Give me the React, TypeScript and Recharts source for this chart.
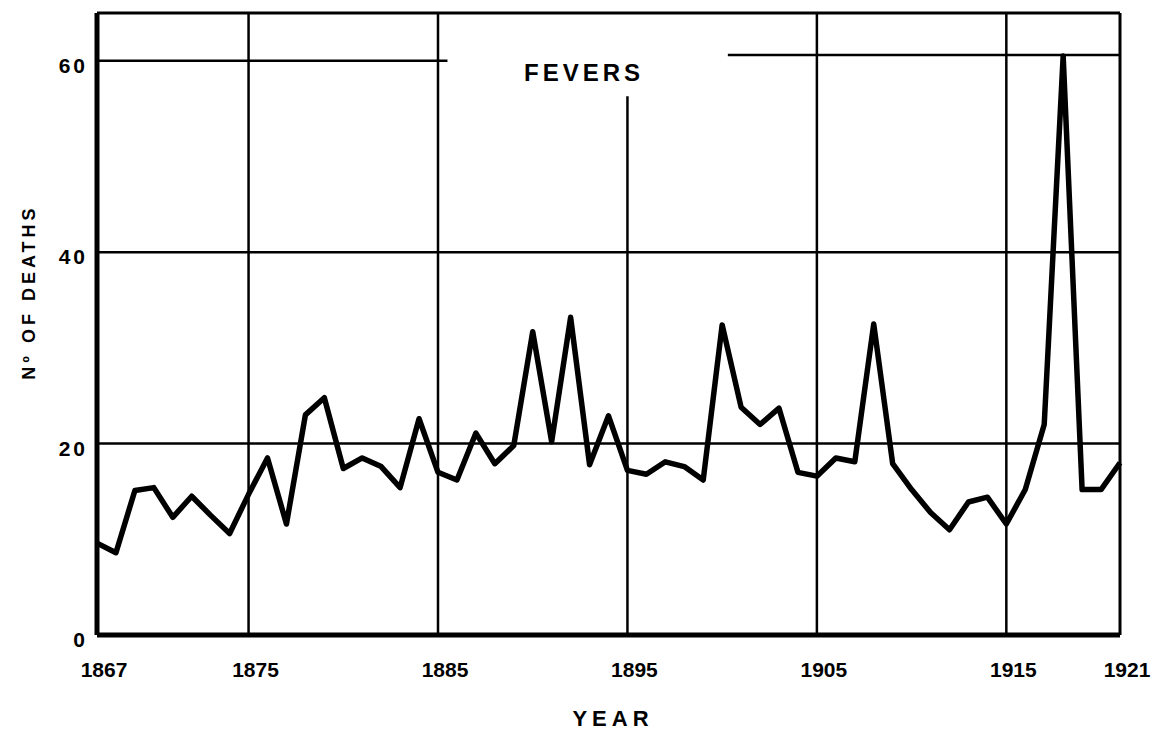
import React from "react";
import { LineChart, Line, XAxis, YAxis, ReferenceLine } from "recharts";

const years: number[] = [
  1867, 1868, 1869, 1870, 1871, 1872, 1873, 1874, 1875, 1876,
  1877, 1878, 1879, 1880, 1881, 1882, 1883, 1884, 1885, 1886,
  1887, 1888, 1889, 1890, 1891, 1892, 1893, 1894, 1895, 1896,
  1897, 1898, 1899, 1900, 1901, 1902, 1903, 1904, 1905, 1906,
  1907, 1908, 1909, 1910, 1911, 1912, 1913, 1914, 1915, 1916,
  1917, 1918, 1919, 1920, 1921,
];

const deaths: number[] = [
  9.6, 8.6, 15.1, 15.4, 12.3, 14.5, 12.5, 10.6, 14.7, 18.5,
  11.6, 23.0, 24.8, 17.4, 18.5, 17.6, 15.4, 22.6, 17.0, 16.2,
  21.1, 17.9, 19.8, 31.7, 20.2, 33.2, 17.8, 22.9, 17.2, 16.8,
  18.1, 17.6, 16.2, 32.4, 23.8, 22.0, 23.7, 17.0, 16.6, 18.5,
  18.1, 32.5, 17.9, 15.2, 12.8, 11.0, 13.9, 14.4, 11.6, 15.2,
  22.0, 60.5, 15.2, 15.2, 18.0,
];

const xTicks: number[] = [1867, 1875, 1885, 1895, 1905, 1915, 1921];
const yTicks: number[] = [0, 20, 40, 60];
const fullVerticalGrid: number[] = [1875, 1885, 1905, 1915];
const horizontalGrid: number[] = [20, 40];

const title = "FEVERS";
const xLabel = "YEAR";
const yLabel = "Nº OF DEATHS";

const data = years.map((year, i) => ({ year, deaths: deaths[i] }));

const FONT = "'Liberation Sans', Arial, sans-serif";

const XTick = (props: any) => {
  const { x, y, payload } = props;
  return (
    <text
      x={x + 7}
      y={y + 42}
      textAnchor="middle"
      fontFamily={FONT}
      fontWeight="bold"
      fontSize={21}
      fill="#000"
    >
      {payload.value}
    </text>
  );
};

const YTick = (props: any) => {
  const { x, y, payload } = props;
  return (
    <text
      x={x - 9}
      y={y + 12}
      textAnchor="end"
      fontFamily={FONT}
      fontWeight="bold"
      fontSize={21}
      letterSpacing={3}
      fill="#000"
    >
      {payload.value}
    </text>
  );
};

export default function App() {
  const W = 1156;
  const H = 733;
  return (
    <div style={{ position: "absolute", left: 0, top: 0, width: W, height: H, background: "#fff" }}>
      <LineChart
        width={W}
        height={H}
        data={data}
        margin={{ top: 13, right: 36, bottom: 38, left: 0 }}
      >
        <XAxis
          dataKey="year"
          type="number"
          domain={[1867, 1921]}
          ticks={xTicks}
          interval={0}
          height={60}
          tickLine={false}
          tickSize={0}
          tickMargin={0}
          axisLine={{ stroke: "#000", strokeWidth: 5 }}
          tick={XTick}
        />
        <YAxis
          type="number"
          domain={[0, 65]}
          ticks={yTicks}
          interval={0}
          width={97}
          tickLine={false}
          tickSize={0}
          tickMargin={0}
          axisLine={{ stroke: "#000", strokeWidth: 5 }}
          tick={YTick}
        />
        {fullVerticalGrid.map((yr) => (
          <ReferenceLine key={"v" + yr} x={yr} stroke="#000" strokeWidth={2.5} />
        ))}
        <ReferenceLine
          segment={[
            { x: 1895, y: 0 },
            { x: 1895, y: 56.3 },
          ]}
          stroke="#000"
          strokeWidth={2.5}
        />
        {horizontalGrid.map((v) => (
          <ReferenceLine key={"h" + v} y={v} stroke="#000" strokeWidth={2.5} />
        ))}
        <ReferenceLine
          segment={[
            { x: 1867, y: 60 },
            { x: 1885.5, y: 60 },
          ]}
          stroke="#000"
          strokeWidth={2.5}
        />
        <ReferenceLine
          segment={[
            { x: 1900.3, y: 60.6 },
            { x: 1921, y: 60.6 },
          ]}
          stroke="#000"
          strokeWidth={2.5}
        />
        <ReferenceLine y={65} stroke="#000" strokeWidth={3} />
        <ReferenceLine x={1921} stroke="#000" strokeWidth={3} />
        <Line
          type="linear"
          dataKey="deaths"
          stroke="#000"
          strokeWidth={5.5}
          strokeLinejoin="round"
          dot={false}
          activeDot={false}
          isAnimationActive={false}
        />
      </LineChart>
      <svg
        width={W}
        height={H}
        style={{ position: "absolute", left: 0, top: 0, pointerEvents: "none" }}
      >
        <text
          x={584}
          y={72}
          textAnchor="middle"
          dominantBaseline="central"
          fontFamily={FONT}
          fontWeight="bold"
          fontSize={24}
          letterSpacing={4}
          fill="#000"
        >
          {title}
        </text>
        <text
          x={613}
          y={718}
          textAnchor="middle"
          dominantBaseline="central"
          fontFamily={FONT}
          fontWeight="bold"
          fontSize={22}
          letterSpacing={5}
          fill="#000"
        >
          {xLabel}
        </text>
        <text
          x={29}
          y={292}
          transform="rotate(-90, 29, 292)"
          textAnchor="middle"
          dominantBaseline="central"
          fontFamily={FONT}
          fontWeight="bold"
          fontSize={18}
          letterSpacing={4}
          fill="#000"
        >
          {yLabel}
        </text>
      </svg>
    </div>
  );
}
